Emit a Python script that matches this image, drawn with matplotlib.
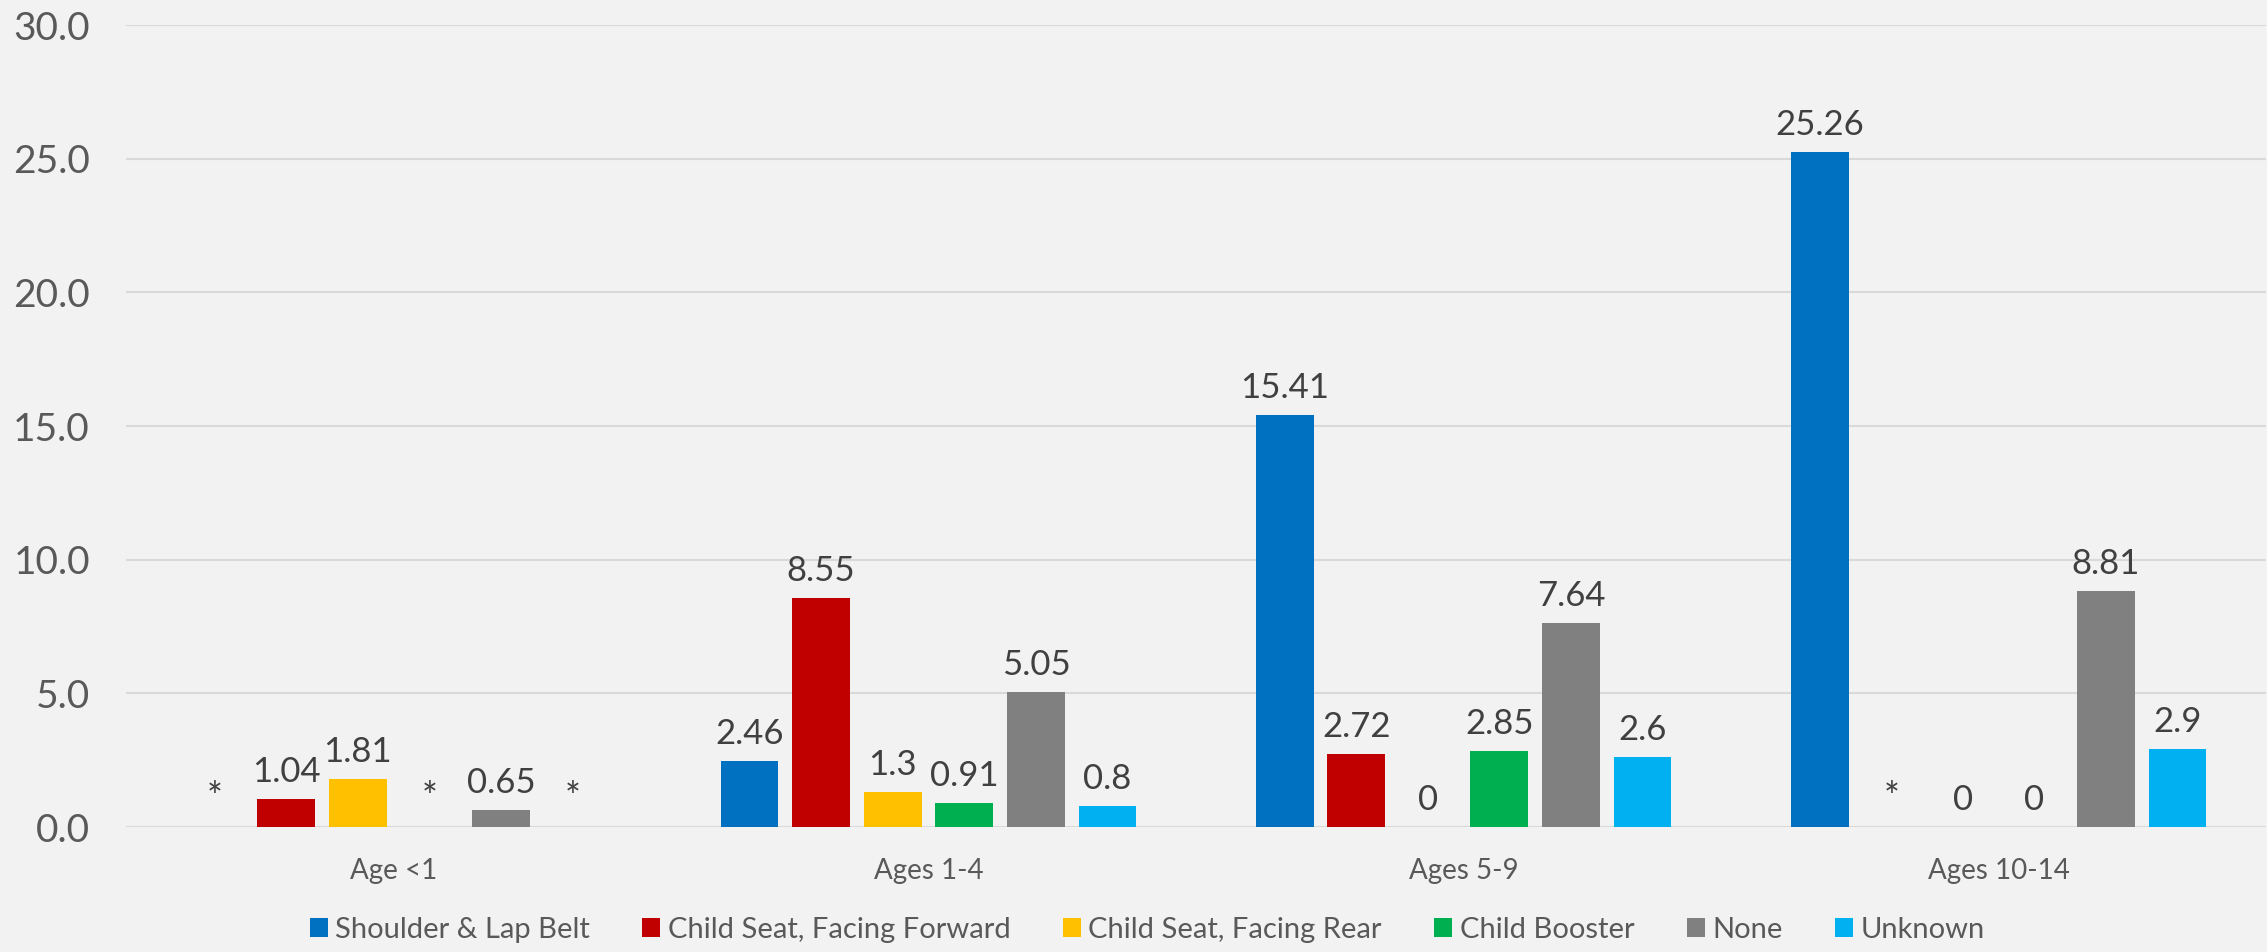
import numpy as np
import matplotlib.pyplot as plt

plt.rcParams['font.family'] = ['Lato', 'DejaVu Sans']

categories = ['Age <1', 'Ages 1-4', 'Ages 5-9', 'Ages 10-14']
series = ['Shoulder & Lap Belt', 'Child Seat, Facing Forward', 'Child Seat, Facing Rear',
          'Child Booster', 'None', 'Unknown']
# None = suppressed value, shown as "*"
shoulder_lap = [None, 2.46, 15.41, 25.26]
seat_forward = [1.04, 8.55, 2.72, None]
seat_rear = [1.81, 1.3, 0, 0]
booster = [None, 0.91, 2.85, 0]
no_restraint = [0.65, 5.05, 7.64, 8.81]
unknown = [None, 0.8, 2.6, 2.9]
values = [shoulder_lap, seat_forward, seat_rear, booster, no_restraint, unknown]
colors = ['#0070C0', '#C00000', '#FFC000', '#00B050', '#808080', '#00B0F0']

bg = '#F2F2F2'
fig = plt.figure(figsize=(22.67, 9.52), dpi=100, facecolor=bg)
ax = fig.add_axes([0.0556, 0.1313, 0.944, 0.8424], facecolor=bg)

x = np.arange(len(categories))
step = 0.1338
width = 0.108
for i, (name, vals, col) in enumerate(zip(series, values, colors)):
    pos = x + (i - 2.5) * step
    h = [0 if v is None else v for v in vals]
    bars = ax.bar(pos, h, width, color=col, label=name, zorder=3)
    for b, v in zip(bars, vals):
        if v is None:
            txt, fs, off = '*', 27, 7
        else:
            txt, fs, off = f'{v:g}', 25, 8
        ax.annotate(txt, (b.get_x() + b.get_width() / 2, b.get_height()),
                    xytext=(0, off), textcoords='offset points',
                    ha='center', va='bottom', fontsize=fs, color='#404040')

ax.set_xlim(-0.5, len(categories) - 0.5)
ax.set_ylim(0, 30)
ax.set_yticks(np.arange(0, 31, 5))
ax.set_yticklabels([f'{t:.1f}' for t in np.arange(0, 31, 5)])
ax.set_xticks(x)
ax.set_xticklabels(categories)
ax.tick_params(axis='y', length=0, pad=26, labelsize=28, labelcolor='#595959')
ax.tick_params(axis='x', length=0, pad=22, labelsize=20, labelcolor='#595959')
ax.grid(axis='y', color='#D9D9D9', linewidth=1.5, zorder=0)
for s in ax.spines.values():
    s.set_visible(False)

fig.legend(loc='center', bbox_to_anchor=(0.506, 0.023), ncol=6, frameon=False,
           fontsize=21, labelcolor='#595959', handlelength=0.62, handleheight=0.62,
           handletextpad=0.25, columnspacing=1.8)

fig.savefig('out.png', facecolor=bg)
